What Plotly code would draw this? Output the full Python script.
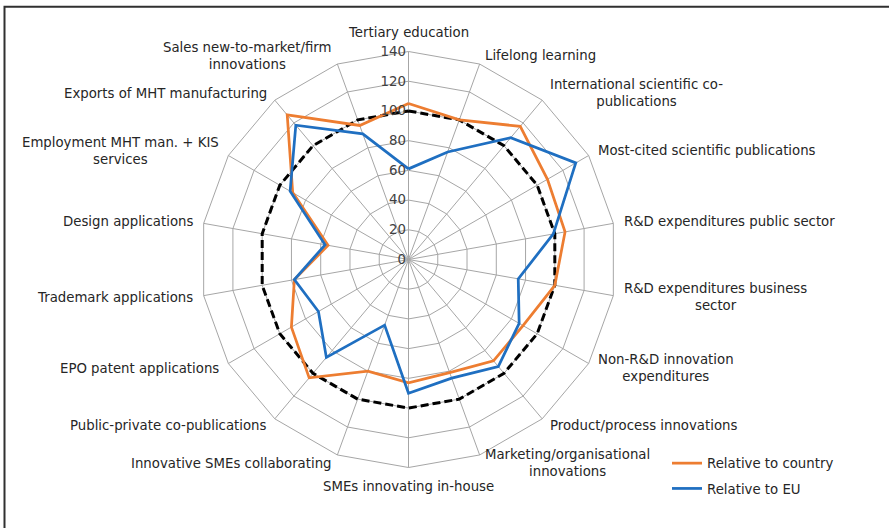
import math
import plotly.graph_objects as go

categories = [
    "Tertiary education",
    "Lifelong learning",
    "International scientific co-<br>publications",
    "Most-cited scientific publications",
    "R&D expenditures public sector",
    "R&D expenditures business<br>sector",
    "Non-R&D innovation<br>expenditures",
    "Product/process innovations",
    "Marketing/organisational<br>innovations",
    "SMEs innovating in-house",
    "Innovative SMEs collaborating",
    "Public-private co-publications",
    "EPO patent applications",
    "Trademark applications",
    "Design applications",
    "Employment MHT man. + KIS<br>services",
    "Exports of MHT manufacturing",
    "Sales new-to-market/firm<br>innovations",
]
relative_to_country = [105, 100, 117, 108, 107, 100, 89, 89, 81, 83, 80, 104, 91, 78, 55, 90, 127, 96]
relative_to_eu = [61, 77, 107, 130, 99, 75, 86, 94, 85, 90, 47, 86, 70, 78, 57, 92, 118, 90]
eu_reference = [100] * len(categories)
radial_ticks = [0, 20, 40, 60, 80, 100, 120, 140]

def closed(vals):
    return list(vals) + [vals[0]]

theta = closed(categories)

fig = go.Figure()
fig.add_trace(go.Scatterpolar(
    r=closed(eu_reference), theta=theta, mode="lines",
    line=dict(color="black", width=3, dash="8px,4px"),
    showlegend=False, hoverinfo="skip",
))
fig.add_trace(go.Scatterpolar(
    r=closed(relative_to_country), theta=theta, mode="lines",
    name="Relative to country", legendgroup="c",
    line=dict(color="#ED7D31", width=2.75),
))
fig.add_trace(go.Scatterpolar(
    r=closed(relative_to_eu), theta=theta, mode="lines",
    name="Relative to EU", legendgroup="e",
    line=dict(color="#1F6FC1", width=2.75),
))

W, H = 889, 528
cx, cy, R = 408.5, 259.5, 208
FS = 13.3
LABEL_PAD = 9

# category labels placed around the outer ring, Excel-style (centred lines)
annotations = []
n = len(categories)
for i, label in enumerate(categories):
    a = math.radians(360.0 * i / n)
    s, c = math.sin(a), math.cos(a)
    px = cx + (R + LABEL_PAD) * s
    py = cy - (R + LABEL_PAD) * c
    if abs(s) < 0.01:
        xa, ya = "center", ("bottom" if c > 0 else "top")
    else:
        xa, ya = ("left" if s > 0 else "right"), "middle"
    annotations.append(dict(
        text=label, x=px / W, y=1 - py / H, xref="paper", yref="paper",
        xanchor=xa, yanchor=ya, align="center", showarrow=False,
        font=dict(size=FS, color="#262626"),
    ))

fig.update_layout(
    width=W, height=H,
    margin=dict(l=0, r=0, t=0, b=0),
    paper_bgcolor="white",
    font=dict(family="DejaVu Sans", size=FS, color="#262626"),
    polar=dict(
        domain=dict(x=[(cx - R) / W, (cx + R) / W], y=[(H - cy - R) / H, (H - cy + R) / H]),
        bgcolor="white",
        gridshape="linear",
        radialaxis=dict(
            range=[0, 140], tickvals=radial_ticks, angle=90, tickangle=90,
            side="counterclockwise", showline=False, ticks="",
            ticksuffix='<span style="color:rgba(0,0,0,0);font-size:12px">00</span>',
            gridcolor="#a6a6a6", gridwidth=1,
            tickfont=dict(size=FS, color="#404040"),
        ),
        angularaxis=dict(
            rotation=90, direction="clockwise",
            showline=True, linecolor="#a6a6a6", linewidth=1,
            gridcolor="#a6a6a6", gridwidth=1, ticks="",
            showticklabels=False,
        ),
    ),
    legend=dict(
        x=667 / W, y=1 - 448 / H, xanchor="left", yanchor="top",
        bgcolor="rgba(0,0,0,0)", font=dict(size=FS, color="#262626"),
        traceorder="grouped", tracegroupgap=5, itemwidth=30,
    ),
    annotations=annotations,
    shapes=[dict(
        type="rect", xref="paper", yref="paper",
        x0=4.5 / W, x1=1.05, y0=-0.05, y1=1 - 6.7 / H,
        line=dict(color="#303030", width=2),
    )],
)

fig.write_html(
    "out.html",
    config={"displayModeBar": False},
    post_script="document.body.style.margin='0';document.body.style.overflow='hidden';",
)
